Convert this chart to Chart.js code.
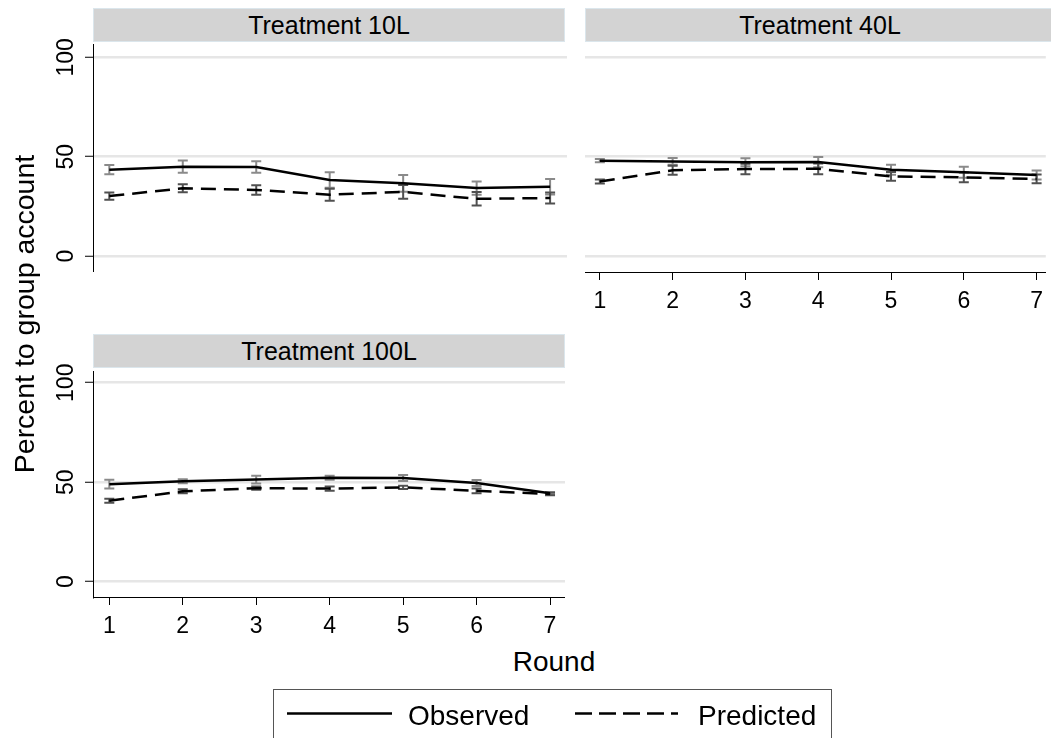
<!DOCTYPE html>
<html>
<head>
<meta charset="utf-8">
<script src="https://cdn.jsdelivr.net/npm/chart.js@4.4.1/dist/chart.umd.min.js"></script>
<style>
  html, body { margin: 0; padding: 0; background: #fff; }
  body { width: 1051px; height: 738px; position: relative; overflow: hidden;
         font-family: "Liberation Sans", Arial, sans-serif; color: #000; }
  canvas { position: absolute; }
  .strip { position: absolute; background: #d3d3d3; border: 1px solid #dbe6ec; box-sizing: border-box;
           font-size: 25px; text-align: center; line-height: 32px; white-space: nowrap; }
  .ytitle { position: absolute; width: 400px; height: 34px; line-height: 34px; font-size: 28.5px;
            text-align: center; transform: rotate(-90deg); white-space: nowrap; }
  .xtitle { position: absolute; width: 200px; height: 34px; line-height: 34px; font-size: 28px;
            text-align: center; }
  .legend { position: absolute; border: 1px solid #555; box-sizing: border-box; background: #fff; }
  .legtext { position: absolute; font-size: 28px; line-height: 34px; white-space: nowrap; }
  svg { position: absolute; overflow: visible; }
</style>
</head>
<body>

<div class="strip" style="left:93px; top:8px; width:472px; height:34px;">Treatment 10L</div>
<div class="strip" style="left:585px; top:8px; width:470px; height:34px;">Treatment 40L</div>
<div class="strip" style="left:93px; top:334px; width:472px; height:34px;">Treatment 100L</div>

<canvas id="p10" width="567" height="248" style="left:0; top:24px;"></canvas>
<canvas id="p40" width="466" height="273" style="left:585px; top:44px;"></canvas>
<canvas id="p100" width="565" height="291" style="left:0; top:351px;"></canvas>

<div class="ytitle" style="left:-176px; top:297px;">Percent to group account</div>
<div class="xtitle" style="left:454px; top:645px;">Round</div>

<div class="legend" style="left:273px; top:689px; width:559px; height:70px;"></div>
<svg width="1051" height="738" style="left:0; top:0;">
  <line x1="287" y1="713.5" x2="392" y2="713.5" stroke="#000" stroke-width="2.5"/>
  <line x1="575" y1="713.5" x2="678" y2="713.5" stroke="#000" stroke-width="2.5" stroke-dasharray="17 7"/>
</svg>
<div class="legtext" style="left:408px; top:699px;">Observed</div>
<div class="legtext" style="left:698px; top:699px;">Predicted</div>

<script>
// Rounds on the horizontal axis and the labelled values on the vertical axis
const rounds = ['1', '2', '3', '4', '5', '6', '7'];
const yTickValues = [0, 50, 100];
const yTickLabels = ['0', '50', '100'];

// Treatment 10L: mean percent to group account and half-width of the error bars
const observed10L     = [43.5, 45.0, 44.8, 38.3, 36.6, 34.2, 34.9];
const observed10LErr  = [2.3, 3.1, 2.9, 3.9, 4.2, 3.3, 3.9];
const predicted10L    = [30.2, 34.1, 33.3, 30.9, 32.3, 28.8, 29.2];
const predicted10LErr = [1.8, 2.0, 2.4, 3.0, 3.5, 3.4, 2.8];

// Treatment 40L
const observed40L     = [48.0, 47.6, 47.2, 47.3, 43.4, 42.2, 40.8];
const observed40LErr  = [0.8, 1.7, 2.0, 2.6, 2.5, 2.8, 2.3];
const predicted40L    = [37.5, 43.2, 43.8, 43.9, 40.1, 39.6, 38.8];
const predicted40LErr = [1.0, 2.3, 2.6, 2.7, 2.2, 2.5, 2.2];

// Treatment 100L
const observed100L     = [49.0, 50.5, 51.3, 52.2, 52.1, 49.6, 44.4];
const observed100LErr  = [2.2, 1.0, 2.0, 1.0, 1.5, 1.5, 0.7];
const predicted100L    = [40.7, 45.4, 47.0, 46.8, 47.4, 45.7, 44.1];
const predicted100LErr = [1.0, 1.0, 0.8, 1.1, 0.8, 1.2, 0.6];

const FONT = '"Liberation Sans", Arial, sans-serif';

// Capped error bars drawn under the connecting lines
const errorBars = {
  id: 'errorBars',
  beforeDatasetsDraw(chart) {
    const { ctx, scales: { x, y } } = chart;
    chart.data.datasets.forEach(ds => {
      if (!ds.errors) return;
      ctx.save();
      ctx.strokeStyle = ds.errorColor;
      ctx.lineWidth = 2;
      ds.data.forEach((pt, i) => {
        const px = x.getPixelForValue(pt.x);
        const top = y.getPixelForValue(pt.y + ds.errors[i]);
        const bot = y.getPixelForValue(pt.y - ds.errors[i]);
        ctx.beginPath();
        ctx.moveTo(px, top); ctx.lineTo(px, bot);
        ctx.moveTo(px - 5, top); ctx.lineTo(px + 5, top);
        ctx.moveTo(px - 5, bot); ctx.lineTo(px + 5, bot);
        ctx.stroke();
      });
      ctx.restore();
    });
  }
};

// Vertical-axis labels written bottom-to-top beside their tick marks
const rotatedYLabels = {
  id: 'rotatedYLabels',
  afterDraw(chart, args, opts) {
    if (!opts.show) return;
    const { ctx, scales: { y } } = chart;
    ctx.save();
    ctx.fillStyle = '#000';
    ctx.font = '23px ' + FONT;
    ctx.textAlign = 'center';
    ctx.textBaseline = 'middle';
    yTickValues.forEach((v, i) => {
      ctx.save();
      ctx.translate(opts.x, y.getPixelForValue(v));
      ctx.rotate(-Math.PI / 2);
      ctx.fillText(yTickLabels[i], 0, 0);
      ctx.restore();
    });
    ctx.restore();
  }
};

function points(values) {
  return values.map((v, i) => ({ x: Number(rounds[i]), y: v }));
}

function makePanel(id, obs, obsErr, pred, predErr, cfg) {
  const datasets = [
    { label: 'Observed', data: points(obs), errors: obsErr, errorColor: '#8a8a8a',
      borderColor: '#000', borderWidth: 2.5, pointRadius: 0, tension: 0, fill: false },
    { label: 'Predicted', data: points(pred), errors: predErr, errorColor: '#505050',
      borderColor: '#000', borderWidth: 2.5, borderDash: [15, 8], pointRadius: 0, tension: 0, fill: false }
  ];
  return new Chart(document.getElementById(id), {
    type: 'line',
    data: { datasets },
    plugins: [errorBars, rotatedYLabels],
    options: {
      responsive: false,
      animation: false,
      devicePixelRatio: 1,
      layout: { padding: { top: cfg.padTop, left: 0, right: 0, bottom: 0 } },
      plugins: {
        legend: { display: false },
        tooltip: { enabled: false },
        rotatedYLabels: { show: cfg.yAxis, x: 67 }
      },
      scales: {
        x: {
          type: 'linear',
          min: cfg.xMin, max: cfg.xMax,
          display: cfg.xAxis,
          afterBuildTicks: s => { s.ticks = rounds.map(r => ({ value: Number(r) })); },
          afterFit: s => { s.height = cfg.xAxis ? cfg.xHeight : 0; },
          border: { display: true, color: '#000', width: 1 },
          grid: { drawOnChartArea: false, drawTicks: true, tickLength: 8, tickColor: '#000', tickWidth: 1 },
          ticks: {
            color: '#000', font: { family: FONT, size: 23 }, padding: 8,
            maxRotation: 0, autoSkip: false,
            callback: v => rounds[Number(v) - 1]
          }
        },
        y: {
          type: 'linear',
          min: cfg.yMin, max: cfg.yMax,
          afterBuildTicks: s => { s.ticks = yTickValues.map(v => ({ value: v })); },
          afterFit: s => { s.width = cfg.yAxis ? 93 : 0; },
          border: { display: cfg.yAxis, color: '#000', width: 1 },
          grid: { color: '#e6e6e6', lineWidth: 2.5, drawTicks: cfg.yAxis, tickLength: 8,
                  tickColor: '#000', tickWidth: 1 },
          ticks: { display: false }
        }
      }
    }
  });
}

makePanel('p10', observed10L, observed10LErr, predicted10L, predicted10LErr,
  { xAxis: false, yAxis: true, padTop: 20, xMin: 0.778, xMax: 7.23, yMin: -8, yMax: 106.7, xHeight: 0 });
makePanel('p40', observed40L, observed40LErr, predicted40L, predicted40LErr,
  { xAxis: true, yAxis: false, padTop: 0, xMin: 0.796, xMax: 7.126, yMin: -8, yMax: 106.7, xHeight: 45 });
makePanel('p100', observed100L, observed100LErr, predicted100L, predicted100LErr,
  { xAxis: true, yAxis: true, padTop: 20, xMin: 0.778, xMax: 7.204, yMin: -7.7, yMax: 105.9, xHeight: 45 });
</script>
</body>
</html>
